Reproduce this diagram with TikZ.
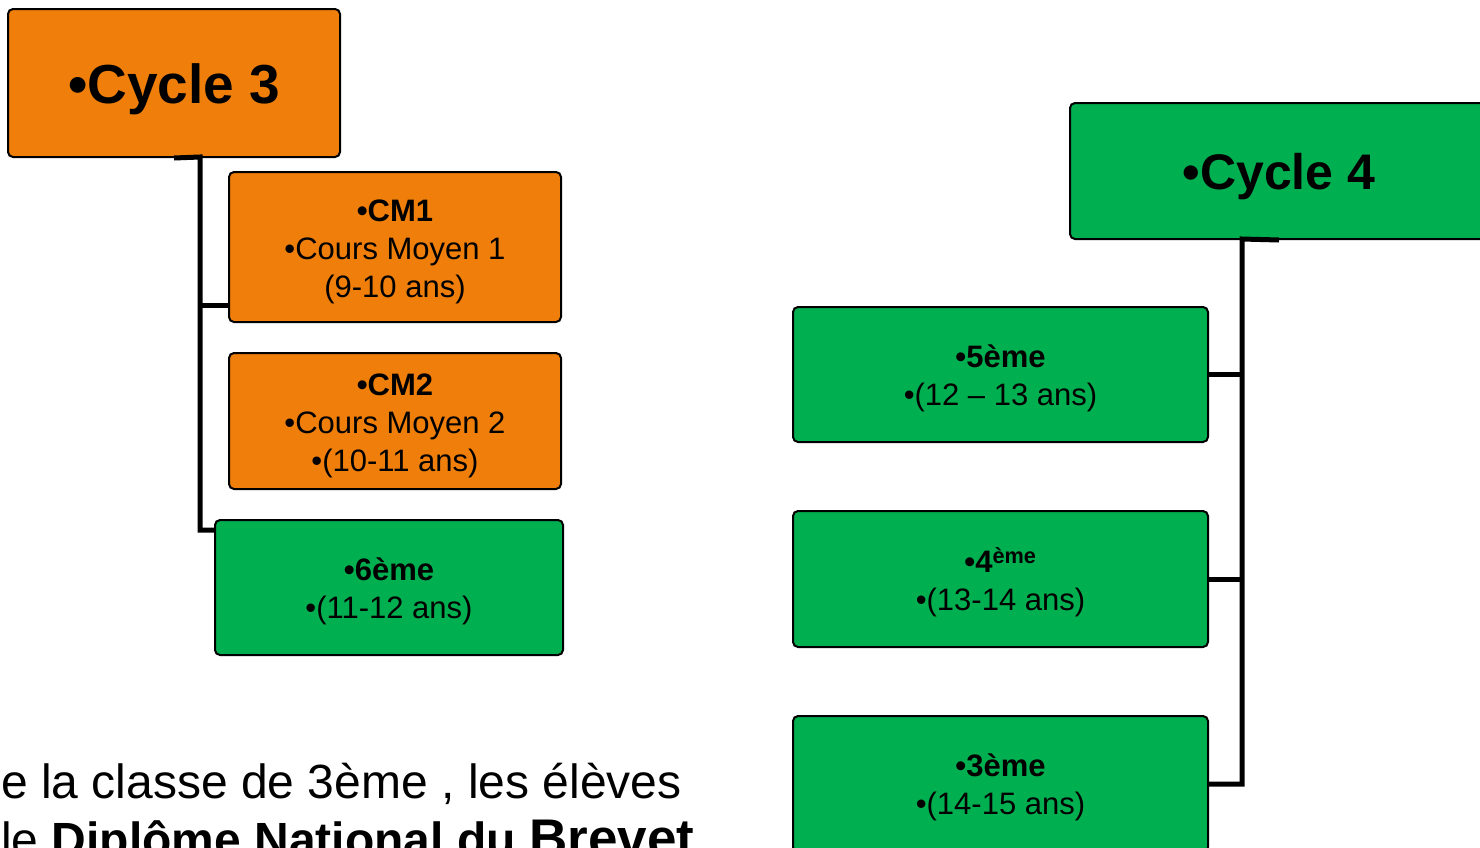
\documentclass[tikz,border=0pt]{standalone}
\usepackage{fontspec}
\setmainfont{Liberation Sans}
\definecolor{orng}{RGB}{239,127,10}
\definecolor{grn}{RGB}{0,176,80}
\begin{document}
\begin{tikzpicture}[x=1pt,y=-1pt,
  box/.style={draw=black, line width=2pt, rounded corners=5pt, inner sep=0pt, anchor=north west},
  obox/.style={box, fill=orng},
  gbox/.style={box, fill=grn},
  conn/.style={draw=black, line width=5pt},
  lbl/.style={align=center, inner sep=0pt, text=black, font=\fontsize{31}{38}\selectfont},
  ttl/.style={align=center, inner sep=0pt, text=black},
  para/.style={anchor=base west, inner sep=0pt, font=\fontsize{48}{58}\selectfont}
]
\useasboundingbox (0,0) rectangle (1480,847);
\clip (0,0) rectangle (1480,847);

\coordinate (ltop) at (200,157);
\coordinate (lmid) at (200,305);
\coordinate (lbot) at (200,530);
\coordinate (rtop) at (1242,239);

% boxes
\node[obox, minimum width=332, minimum height=148] (c3) at (7,8) {};
\node[obox, minimum width=332, minimum height=150] (cm1) at (228,171) {};
\node[obox, minimum width=332, minimum height=136] (cm2) at (228,352) {};
\node[gbox, minimum width=348, minimum height=135] (six) at (214,519) {};
\node[gbox, minimum width=418, minimum height=136] (c4) at (1069,102) {};
\node[gbox, minimum width=415, minimum height=135] (cinq) at (792,306) {};
\node[gbox, minimum width=415, minimum height=136] (quatre) at (792,510) {};
\node[gbox, minimum width=415, minimum height=136] (trois) at (792,715) {};

% texts
\node[ttl, font=\fontsize{55}{66}\selectfont\bfseries] (c3t) at ([yshift=-6pt]c3.center) {•Cycle 3};
\node[lbl] (cm1t) at ([yshift=-5pt]cm1.center) {\textbf{•CM1}\\•Cours Moyen 1\\(9-10 ans)};
\node[lbl] (cm2t) at ([yshift=-5pt]cm2.center) {\textbf{•CM2}\\•Cours Moyen 2\\•(10-11 ans)};
\node[lbl] (sixt) at ([yshift=-4pt]six.center) {\textbf{•6ème}\\•(11-12 ans)};
\node[ttl, font=\fontsize{50}{60}\selectfont\bfseries] (c4t) at ([yshift=-6pt]c4.center) {•Cycle 4};
\node[lbl] (cinqt) at ([yshift=-4pt]cinq.center) {\textbf{•5ème}\\•(12 – 13 ans)};
\node[lbl] (quatret) at ([yshift=-3pt]quatre.center) {\textbf{•4\textsuperscript{ème}}\\•(13-14 ans)};
\node[lbl] (troist) at ([yshift=-3pt]trois.center) {\textbf{•3ème}\\•(14-15 ans)};

% left tree
\draw[conn] (c3.south) -- (ltop) -- (lbot) -- (six.west |- lbot);
\draw[conn] (lmid) -- (cm1.west |- lmid);

% right tree
\draw[conn] (c4.south) -- (rtop) -- (rtop |- trois.east) -- (trois.east);
\draw[conn] (cinq.east) -- (cinq.east -| rtop);
\draw[conn] (quatre.east) -- (quatre.east -| rtop);

% bottom text
\node[para] (t1) at (1,798) {e la classe de 3ème , les élèves};
\node[para] (t2) at (1,856) {le \textbf{Diplôme National du} {\fontsize{53}{58}\selectfont\textbf{Brevet}}};
\end{tikzpicture}
\end{document}
